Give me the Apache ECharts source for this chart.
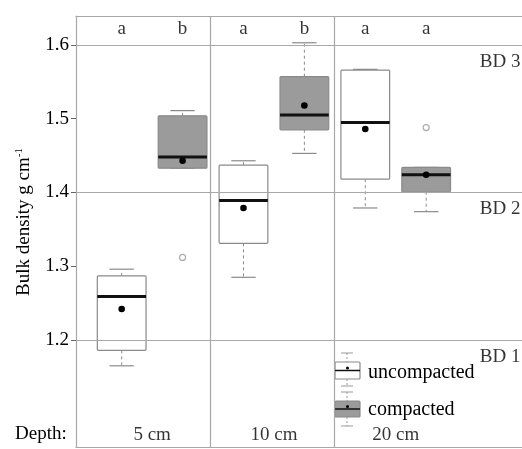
<!DOCTYPE html>
<html>
<head>
<meta charset="utf-8">
<script src="https://cdn.jsdelivr.net/npm/echarts@6/dist/echarts.min.js"></script>
<style>
  html, body { margin: 0; padding: 0; background: #fff; overflow: hidden; }
  #chart { width: 545px; height: 449px; }
</style>
</head>
<body>
<div id="chart"></div>
<script>
/* ---------- data ---------- */
const depths = ["5 cm", "10 cm", "20 cm"];
const groups = ["uncompacted", "compacted"];
// [min, q1, median, q3, max] per depth
const uncompactedBox = [
    [1.165, 1.186, 1.259, 1.287, 1.296],
    [1.285, 1.331, 1.389, 1.437, 1.443],
    [1.379, 1.418, 1.495, 1.566, 1.567],
];
const compactedBox = [
    [1.433, 1.433, 1.448, 1.504, 1.511],
    [1.453, 1.485, 1.505, 1.557, 1.603],
    [1.374, 1.401, 1.424, 1.434, 1.434],
];
const uncompactedMean = [1.242, 1.379, 1.486];
const compactedMean   = [1.443, 1.518, 1.424];
// [depth index, value]
const uncompactedOut = [];
const compactedOut   = [[0, 1.312], [2, 1.488]];
const letters  = [["a", "b"], ["a", "b"], ["a", "a"]];
const bdLines  = [1.2, 1.4, 1.6];
const bdLabels = ["BD 1", "BD 2", "BD 3"];
const yTicks   = [1.2, 1.3, 1.4, 1.5, 1.6];

/* ---------- helpers ---------- */
const FONT = "Liberation Serif";
const TXT = "#000";
const GRID_C = "#a8a8a8";
const Y_MIN = 1.0549, Y_MAX = 1.6393;
const pos = (d, g) => d * 2 + g;          // box slot on the x axis

function boxData(boxes, means, g) {
    return boxes.map((b, d) => [pos(d, g), ...b, means[d]]);
}

function renderBox(fill) {
    return function (params, api) {
        const x = api.value(0);
        const w = api.size([0.8, 0])[0];
        const cap = w / 2;
        const pMin = api.coord([x, api.value(1)]);
        const pQ1  = api.coord([x, api.value(2)]);
        const pMed = api.coord([x, api.value(3)]);
        const pQ3  = api.coord([x, api.value(4)]);
        const pMax = api.coord([x, api.value(5)]);
        const pMean = api.coord([x, api.value(6)]);
        const cx = pMed[0];
        const dash = { stroke: "#8a8a8a", lineWidth: 1, lineDash: [3, 3] };
        const solid = { stroke: "#8a8a8a", lineWidth: 1.2 };
        return {
            type: "group",
            children: [
                { type: "line", shape: { x1: cx, y1: pQ3[1], x2: cx, y2: pMax[1] }, style: dash },
                { type: "line", shape: { x1: cx, y1: pQ1[1], x2: cx, y2: pMin[1] }, style: dash },
                { type: "line", shape: { x1: cx - cap / 2, y1: pMax[1], x2: cx + cap / 2, y2: pMax[1] }, style: solid },
                { type: "line", shape: { x1: cx - cap / 2, y1: pMin[1], x2: cx + cap / 2, y2: pMin[1] }, style: solid },
                {
                    type: "rect",
                    shape: { x: cx - w / 2, y: pQ3[1], width: w, height: pQ1[1] - pQ3[1], r: 1 },
                    style: { fill: fill, stroke: "#8a8a8a", lineWidth: 1.2 },
                },
                { type: "line", shape: { x1: cx - w / 2, y1: pMed[1], x2: cx + w / 2, y2: pMed[1] },
                  style: { stroke: "#111", lineWidth: 3 } },
                { type: "circle", shape: { cx: cx, cy: pMean[1], r: 3.3 }, style: { fill: "#000" } },
            ],
        };
    };
}

/* ---------- chart ---------- */
const chart = echarts.init(document.getElementById("chart"));

const letterData = [];
letters.forEach((pair, d) => pair.forEach((l, g) => letterData.push([pos(d, g), 1.621, l])));
const depthData = depths.map((t, d) => [pos(d, 0) + 0.5, 1.0712, t]);
const bdData = bdLines.map((v, i) => [5.88, v, bdLabels[i]]);

const frameAxis = (position) => ({
    type: "value", min: -0.75, max: 6.75, position: position,
    axisLine: { show: true, onZero: false, lineStyle: { color: GRID_C, width: 1.2 } },
    axisTick: { show: false }, axisLabel: { show: false }, splitLine: { show: false },
});

const option = {
    animation: false,
    grid: { left: 76, top: 16, width: 456.75, height: 431, show: false },
    xAxis: [frameAxis("bottom"), frameAxis("top")],
    yAxis: {
        type: "value", min: Y_MIN, max: Y_MAX,
        axisLine: { show: true, onZero: false, lineStyle: { color: GRID_C, width: 1.2 } },
        axisTick: { show: true, length: 5, customValues: yTicks, lineStyle: { color: "#666" } },
        axisLabel: {
            customValues: yTicks, margin: 7,
            color: TXT, fontFamily: FONT, fontSize: 19,
            formatter: (v) => v.toFixed(1),
        },
        splitLine: { show: false },
    },
    series: [
        {
            name: "lines", type: "scatter", data: bdData, symbolSize: 0,
            label: {
                show: true, position: "right", distance: 0, offset: [0, 17],
                formatter: (p) => p.value[2],
                color: TXT, fontFamily: FONT, fontSize: 19,
            },
            markLine: {
                silent: true, symbol: "none", label: { show: false },
                lineStyle: { color: GRID_C, type: "solid", width: 1.2 },
                data: [
                    ...bdLines.map((v) => ({ yAxis: v })),
                    { xAxis: 1.45 }, { xAxis: 3.49 },
                ],
            },
            z: 1,
        },
        {
            name: groups[0], type: "custom",
            renderItem: renderBox("#ffffff"),
            data: boxData(uncompactedBox, uncompactedMean, 0),
            encode: { x: 0, y: [1, 2, 3, 4, 5, 6] },
            z: 3,
        },
        {
            name: groups[1], type: "custom",
            renderItem: renderBox("#9b9b9b"),
            data: boxData(compactedBox, compactedMean, 1),
            encode: { x: 0, y: [1, 2, 3, 4, 5, 6] },
            z: 3,
        },
        {
            name: "outliers", type: "scatter", symbol: "circle", symbolSize: 6,
            itemStyle: { color: "#fff", borderColor: "#999", borderWidth: 1.2 },
            data: [
                ...uncompactedOut.map(([d, v]) => [pos(d, 0), v]),
                ...compactedOut.map(([d, v]) => [pos(d, 1), v]),
            ],
            z: 4,
        },
        {
            name: "letters", type: "scatter", data: letterData, symbolSize: 0,
            label: {
                show: true, position: "inside", formatter: (p) => p.value[2],
                color: TXT, fontFamily: FONT, fontSize: 19,
            },
        },
        {
            name: "depths", type: "scatter", data: depthData, symbolSize: 0,
            label: {
                show: true, position: "inside", formatter: (p) => p.value[2],
                color: TXT, fontFamily: FONT, fontSize: 19,
            },
        },
    ],
    graphic: [
        {
            type: "text", left: 15, top: 425,
            style: { text: "Depth:", fill: TXT, font: `19px "${FONT}"` },
        },
        {
            type: "text", x: 24, y: 222, rotation: Math.PI / 2, originX: 0, originY: 0,
            style: {
                text: "{a|Bulk density g cm}{s|-1}", fill: TXT,
                align: "center", verticalAlign: "middle",
                rich: {
                    a: { fontFamily: FONT, fontSize: 19, fill: TXT },
                    s: { fontFamily: FONT, fontSize: 11, fill: TXT, verticalAlign: "top", padding: [0, 0, 10, 0] },
                },
            },
        },
        // legend: uncompacted
        { type: "line", shape: { x1: 341, y1: 353, x2: 353, y2: 353 }, style: { stroke: "#999", lineWidth: 1 } },
        { type: "line", shape: { x1: 347, y1: 353, x2: 347, y2: 362 }, style: { stroke: "#999", lineDash: [2, 2] } },
        { type: "rect", shape: { x: 335, y: 362, width: 25, height: 17, r: 1 }, style: { fill: "#fff", stroke: "#8a8a8a", lineWidth: 1.2 } },
        { type: "line", shape: { x1: 335, y1: 370.5, x2: 360, y2: 370.5 }, style: { stroke: "#111", lineWidth: 1.5 } },
        { type: "circle", shape: { cx: 347.5, cy: 368, r: 1.5 }, style: { fill: "#000" } },
        { type: "line", shape: { x1: 347, y1: 379, x2: 347, y2: 386 }, style: { stroke: "#999", lineDash: [2, 2] } },
        { type: "line", shape: { x1: 341, y1: 386, x2: 353, y2: 386 }, style: { stroke: "#999", lineWidth: 1 } },
        // legend: compacted
        { type: "line", shape: { x1: 341, y1: 392, x2: 353, y2: 392 }, style: { stroke: "#999", lineWidth: 1 } },
        { type: "line", shape: { x1: 347, y1: 392, x2: 347, y2: 401 }, style: { stroke: "#999", lineDash: [2, 2] } },
        { type: "rect", shape: { x: 335, y: 401, width: 25, height: 16, r: 1 }, style: { fill: "#9b9b9b", stroke: "#8a8a8a", lineWidth: 1.2 } },
        { type: "line", shape: { x1: 335, y1: 409, x2: 360, y2: 409 }, style: { stroke: "#111", lineWidth: 1.5 } },
        { type: "circle", shape: { cx: 347.5, cy: 406.5, r: 1.5 }, style: { fill: "#000" } },
        { type: "line", shape: { x1: 347, y1: 417, x2: 347, y2: 426 }, style: { stroke: "#999", lineDash: [2, 2] } },
        { type: "line", shape: { x1: 341, y1: 426, x2: 353, y2: 426 }, style: { stroke: "#999", lineWidth: 1 } },
        {
            type: "text", left: 368, top: 363,
            style: { text: groups[0], fill: TXT, font: `20px "${FONT}"` },
        },
        {
            type: "text", left: 368, top: 400,
            style: { text: groups[1], fill: TXT, font: `20px "${FONT}"` },
        },
    ],
};

chart.setOption(option);
window.addEventListener("resize", () => chart.resize());
</script>
</body>
</html>
